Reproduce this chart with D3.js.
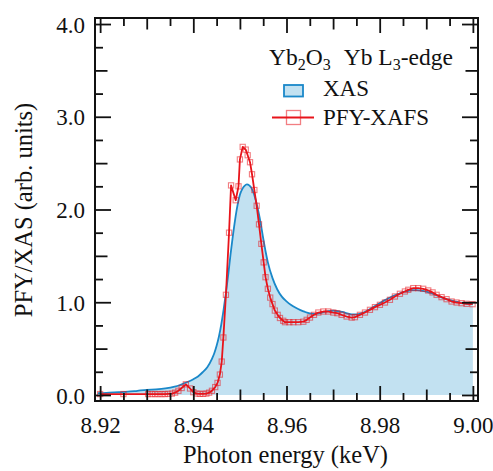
<!DOCTYPE html>
<html>
<head>
<meta charset="utf-8">
<script src="https://cdn.jsdelivr.net/npm/d3@7"></script>
<style>
  html, body { margin: 0; padding: 0; background: #fff; }
  svg { display: block; }
</style>
</head>
<body>
<svg id="chart" width="493" height="471"></svg>
<script>
// ---- Data ----
const xasEnergy = [8.9195, 8.920, 8.922, 8.924, 8.926, 8.928, 8.930, 8.932, 8.934, 8.936, 8.937, 8.938, 8.939, 8.940,
  8.941, 8.942, 8.943, 8.944, 8.9445, 8.945, 8.9455, 8.946, 8.9465, 8.947, 8.9475, 8.948, 8.9485, 8.949, 8.9495,
  8.950, 8.9505, 8.951, 8.9515, 8.952, 8.9525, 8.953, 8.9535, 8.954, 8.9545, 8.955, 8.9555, 8.956, 8.957, 8.958,
  8.959, 8.960, 8.961, 8.962, 8.963, 8.964, 8.965, 8.966, 8.967, 8.968, 8.969, 8.970, 8.971, 8.972, 8.973, 8.974,
  8.975, 8.976, 8.977, 8.978, 8.979, 8.980, 8.981, 8.982, 8.983, 8.984, 8.985, 8.986, 8.987, 8.988, 8.989, 8.990,
  8.991, 8.992, 8.993, 8.994, 8.995, 8.996, 8.997, 8.998, 8.999, 9.000];
const xasValue = [0.02, 0.02, 0.025, 0.03, 0.035, 0.045, 0.055, 0.06, 0.07, 0.09, 0.105, 0.125, 0.145, 0.17,
  0.2, 0.245, 0.3, 0.39, 0.45, 0.53, 0.63, 0.76, 0.92, 1.1, 1.3, 1.52, 1.72, 1.9, 2.05,
  2.16, 2.22, 2.255, 2.27, 2.26, 2.23, 2.17, 2.08, 1.97, 1.84, 1.69, 1.55, 1.43, 1.26, 1.14,
  1.06, 1.01, 0.97, 0.94, 0.915, 0.895, 0.88, 0.875, 0.88, 0.895, 0.905, 0.91, 0.905, 0.895, 0.88, 0.87,
  0.87, 0.88, 0.9, 0.93, 0.96, 0.99, 1.02, 1.045, 1.07, 1.09, 1.11, 1.12, 1.13, 1.13, 1.125, 1.115,
  1.1, 1.08, 1.06, 1.04, 1.025, 1.01, 1.0, 0.99, 0.985, 0.98];

const pfyEnergy = [8.9200, 8.9250, 8.9303, 8.9311, 8.9318, 8.9325, 8.9332, 8.9339, 8.9346, 8.9354, 8.9361, 8.9368,
  8.9375, 8.9384, 8.9393, 8.9400, 8.9407, 8.9414, 8.9421, 8.9428, 8.9434, 8.9440, 8.9447, 8.9452, 8.9457, 8.9461,
  8.94645, 8.9470, 8.94767, 8.9481, 8.9491, 8.9497, 8.9500, 8.9506, 8.95125, 8.95167, 8.95217, 8.9526, 8.9531,
  8.9536, 8.9541, 8.9546, 8.9551, 8.9555, 8.9560, 8.9565, 8.9570, 8.9575, 8.9581, 8.9586, 8.9593,
  8.95968, 8.96060, 8.96146, 8.96253, 8.96361, 8.96433, 8.96504, 8.96590, 8.96683, 8.96790, 8.96897, 8.97004,
  8.97090, 8.97183, 8.97290, 8.97398, 8.97469, 8.97576, 8.97684, 8.97791, 8.97898, 8.98005, 8.98113, 8.98220,
  8.98327, 8.98434, 8.98541, 8.98613, 8.98720, 8.98827, 8.98934, 8.99042, 8.99135, 8.99221, 8.99328, 8.99435,
  8.99543, 8.99650, 8.99757, 8.99864, 8.99993];
const pfyValue = [0.01, 0.01, 0.01, 0.01, 0.01, 0.01, 0.01, 0.01, 0.012, 0.015, 0.025, 0.045,
  0.075, 0.115, 0.07, 0.03, 0.015, 0.012, 0.012, 0.015, 0.025, 0.045, 0.085, 0.13, 0.22, 0.36,
  0.62, 1.08, 1.75, 2.26, 2.10, 2.25, 2.54, 2.675, 2.646, 2.585, 2.51, 2.38, 2.21,
  2.04, 1.84, 1.63, 1.43, 1.27, 1.145, 1.05, 0.98, 0.91, 0.864, 0.83, 0.80,
  0.785, 0.785, 0.785, 0.785, 0.79, 0.81, 0.835, 0.864, 0.889, 0.90, 0.90, 0.889,
  0.882, 0.864, 0.846, 0.835, 0.839, 0.864, 0.889, 0.918, 0.947, 0.972, 0.997, 1.026,
  1.062, 1.091, 1.116, 1.134, 1.152, 1.152, 1.145, 1.127, 1.106, 1.080, 1.055, 1.033,
  1.008, 0.997, 0.990, 0.983, 0.979];

const xTickLabels = [8.92, 8.94, 8.96, 8.98, 9.00];
const xMidTicks = [8.93, 8.95, 8.97, 8.99];
const xMinorTicks = [8.925, 8.935, 8.945, 8.955, 8.965, 8.975, 8.985, 8.995];
const yTickLabels = [0.0, 1.0, 2.0, 3.0, 4.0];
const yMidTicks = [0.5, 1.5, 2.5, 3.5];
const yMinorTicks = [0.25, 0.75, 1.25, 1.75, 2.25, 2.75, 3.25, 3.75];

const xLabel = "Photon energy (keV)";
const yLabel = "PFY/XAS (arb. units)";
const seriesNames = ["XAS", "PFY-XAFS"];

// ---- Layout ----
const FONT = "'Liberation Serif', 'DejaVu Serif', serif";
const svg = d3.select("#chart");
const L = 95, R = 478, T = 18, B = 401;
const x = d3.scaleLinear().domain([8.9189, 9.0011]).range([L, R]);
const y = d3.scaleLinear().domain([-0.065, 4.065]).range([B, T]);

const blueLine = "#1a88c9", blueFill = "#c2e1f1", red = "#e8141b";

const xas = xasEnergy.map((e, i) => ({e, v: xasValue[i]}));
const pfy = pfyEnergy.map((e, i) => ({e, v: pfyValue[i]}));

// XAS filled area
svg.append("path").datum(xas)
  .attr("d", d3.area().x(d => x(d.e)).y0(y(0)).y1(d => y(d.v)).curve(d3.curveMonotoneX))
  .attr("fill", blueFill).attr("stroke", "none");
svg.append("path").datum(xas)
  .attr("d", d3.line().x(d => x(d.e)).y(d => y(d.v)).curve(d3.curveMonotoneX))
  .attr("fill", "none").attr("stroke", blueLine).attr("stroke-width", 1.8);

// PFY line + markers
svg.append("path").datum(pfy)
  .attr("d", d3.line().x(d => x(d.e)).y(d => y(d.v)))
  .attr("fill", "none").attr("stroke", red).attr("stroke-width", 1.8).attr("stroke-linejoin", "round");
const ms = 5.2;
svg.append("g").selectAll("rect").data(pfy).join("rect")
  .attr("x", d => x(d.e) - ms / 2).attr("y", d => y(d.v) - ms / 2)
  .attr("width", ms).attr("height", ms)
  .attr("fill", "none").attr("stroke", red).attr("stroke-opacity", 0.55).attr("stroke-width", 1.1);

// ---- Axes (ticks inward on all four sides) ----
function drawTicks(axisGen, transform, vals, size) {
  const g = svg.append("g").attr("transform", transform)
    .call(axisGen.tickValues(vals).tickSize(size).tickFormat(""));
  g.select(".domain").remove();
  g.selectAll(".tick line").attr("stroke", "#111").attr("stroke-width", 1.8);
  g.selectAll("text").remove();
  return g;
}
// bottom
const gxb = svg.append("g").attr("transform", `translate(0,${B})`)
  .call(d3.axisBottom(x).tickValues(xTickLabels).tickSize(-15).tickFormat(d3.format(".2f")));
gxb.select(".domain").remove();
gxb.selectAll(".tick line").attr("stroke", "#111").attr("stroke-width", 1.8);
gxb.selectAll("text").attr("y", 32).attr("dy", 0)
  .style("font-family", FONT).style("font-size", "23px").attr("fill", "#111");
drawTicks(d3.axisBottom(x), `translate(0,${B})`, xMidTicks, -11.5);
drawTicks(d3.axisBottom(x), `translate(0,${B})`, xMinorTicks, -8);
// top
drawTicks(d3.axisTop(x), `translate(0,${T})`, xTickLabels, -15);
drawTicks(d3.axisTop(x), `translate(0,${T})`, xMidTicks, -11.5);
drawTicks(d3.axisTop(x), `translate(0,${T})`, xMinorTicks, -8);
// left
const gyl = svg.append("g").attr("transform", `translate(${L},0)`)
  .call(d3.axisLeft(y).tickValues(yTickLabels).tickSize(-16).tickFormat(d3.format(".1f")));
gyl.select(".domain").remove();
gyl.selectAll(".tick line").attr("stroke", "#111").attr("stroke-width", 1.8);
gyl.selectAll("text").attr("x", -10).attr("dy", "0.35em")
  .style("font-family", FONT).style("font-size", "23px").attr("fill", "#111");
drawTicks(d3.axisLeft(y), `translate(${L},0)`, yMidTicks, -12.5);
drawTicks(d3.axisLeft(y), `translate(${L},0)`, yMinorTicks, -8);
// right
drawTicks(d3.axisRight(y), `translate(${R},0)`, yTickLabels, -16);
drawTicks(d3.axisRight(y), `translate(${R},0)`, yMidTicks, -12.5);
drawTicks(d3.axisRight(y), `translate(${R},0)`, yMinorTicks, -8);
svg.selectAll("g").attr("font-family", null);

// frame
svg.append("rect").attr("x", L).attr("y", T).attr("width", R - L).attr("height", B - T)
  .attr("fill", "none").attr("stroke", "#111").attr("stroke-width", 2);

// axis titles
svg.append("text").attr("x", (L + R) / 2 - 1).attr("y", 463)
  .attr("text-anchor", "middle").style("font-family", FONT).style("font-size", "24.5px")
  .attr("fill", "#111").text(xLabel);
svg.append("text").attr("transform", "translate(32,210) rotate(-90)")
  .attr("text-anchor", "middle").style("font-family", FONT).style("font-size", "24.5px")
  .attr("fill", "#111").text(yLabel);

// ---- Legend ----
const title = svg.append("text").attr("x", 269).attr("y", 65)
  .style("font-family", FONT).style("font-size", "23.5px").attr("fill", "#111");
title.append("tspan").text("Yb");
title.append("tspan").attr("dy", 5).style("font-size", "16px").text("2");
title.append("tspan").attr("dy", -5).text("O");
title.append("tspan").attr("dy", 5).style("font-size", "16px").text("3");
title.append("tspan").attr("dy", -5).attr("dx", 13).text("Yb L");
title.append("tspan").attr("dy", 5).style("font-size", "16px").text("3");
title.append("tspan").attr("dy", -5).text("-edge");

svg.append("rect").attr("x", 284).attr("y", 85).attr("width", 19).attr("height", 11.5)
  .attr("fill", blueFill).attr("stroke", blueLine).attr("stroke-width", 1.8);
svg.append("text").attr("x", 323).attr("y", 96)
  .style("font-family", FONT).style("font-size", "23px").attr("fill", "#111").text(seriesNames[0]);

svg.append("line").attr("x1", 272).attr("x2", 314).attr("y1", 117.5).attr("y2", 117.5)
  .attr("stroke", red).attr("stroke-width", 1.8);
svg.append("rect").attr("x", 286.5).attr("y", 110.5).attr("width", 14).attr("height", 14)
  .attr("fill", "none").attr("stroke", red).attr("stroke-opacity", 0.55).attr("stroke-width", 1.3);
svg.append("text").attr("x", 323).attr("y", 124.5)
  .style("font-family", FONT).style("font-size", "23px").attr("fill", "#111").text(seriesNames[1]);
</script>
</body>
</html>
